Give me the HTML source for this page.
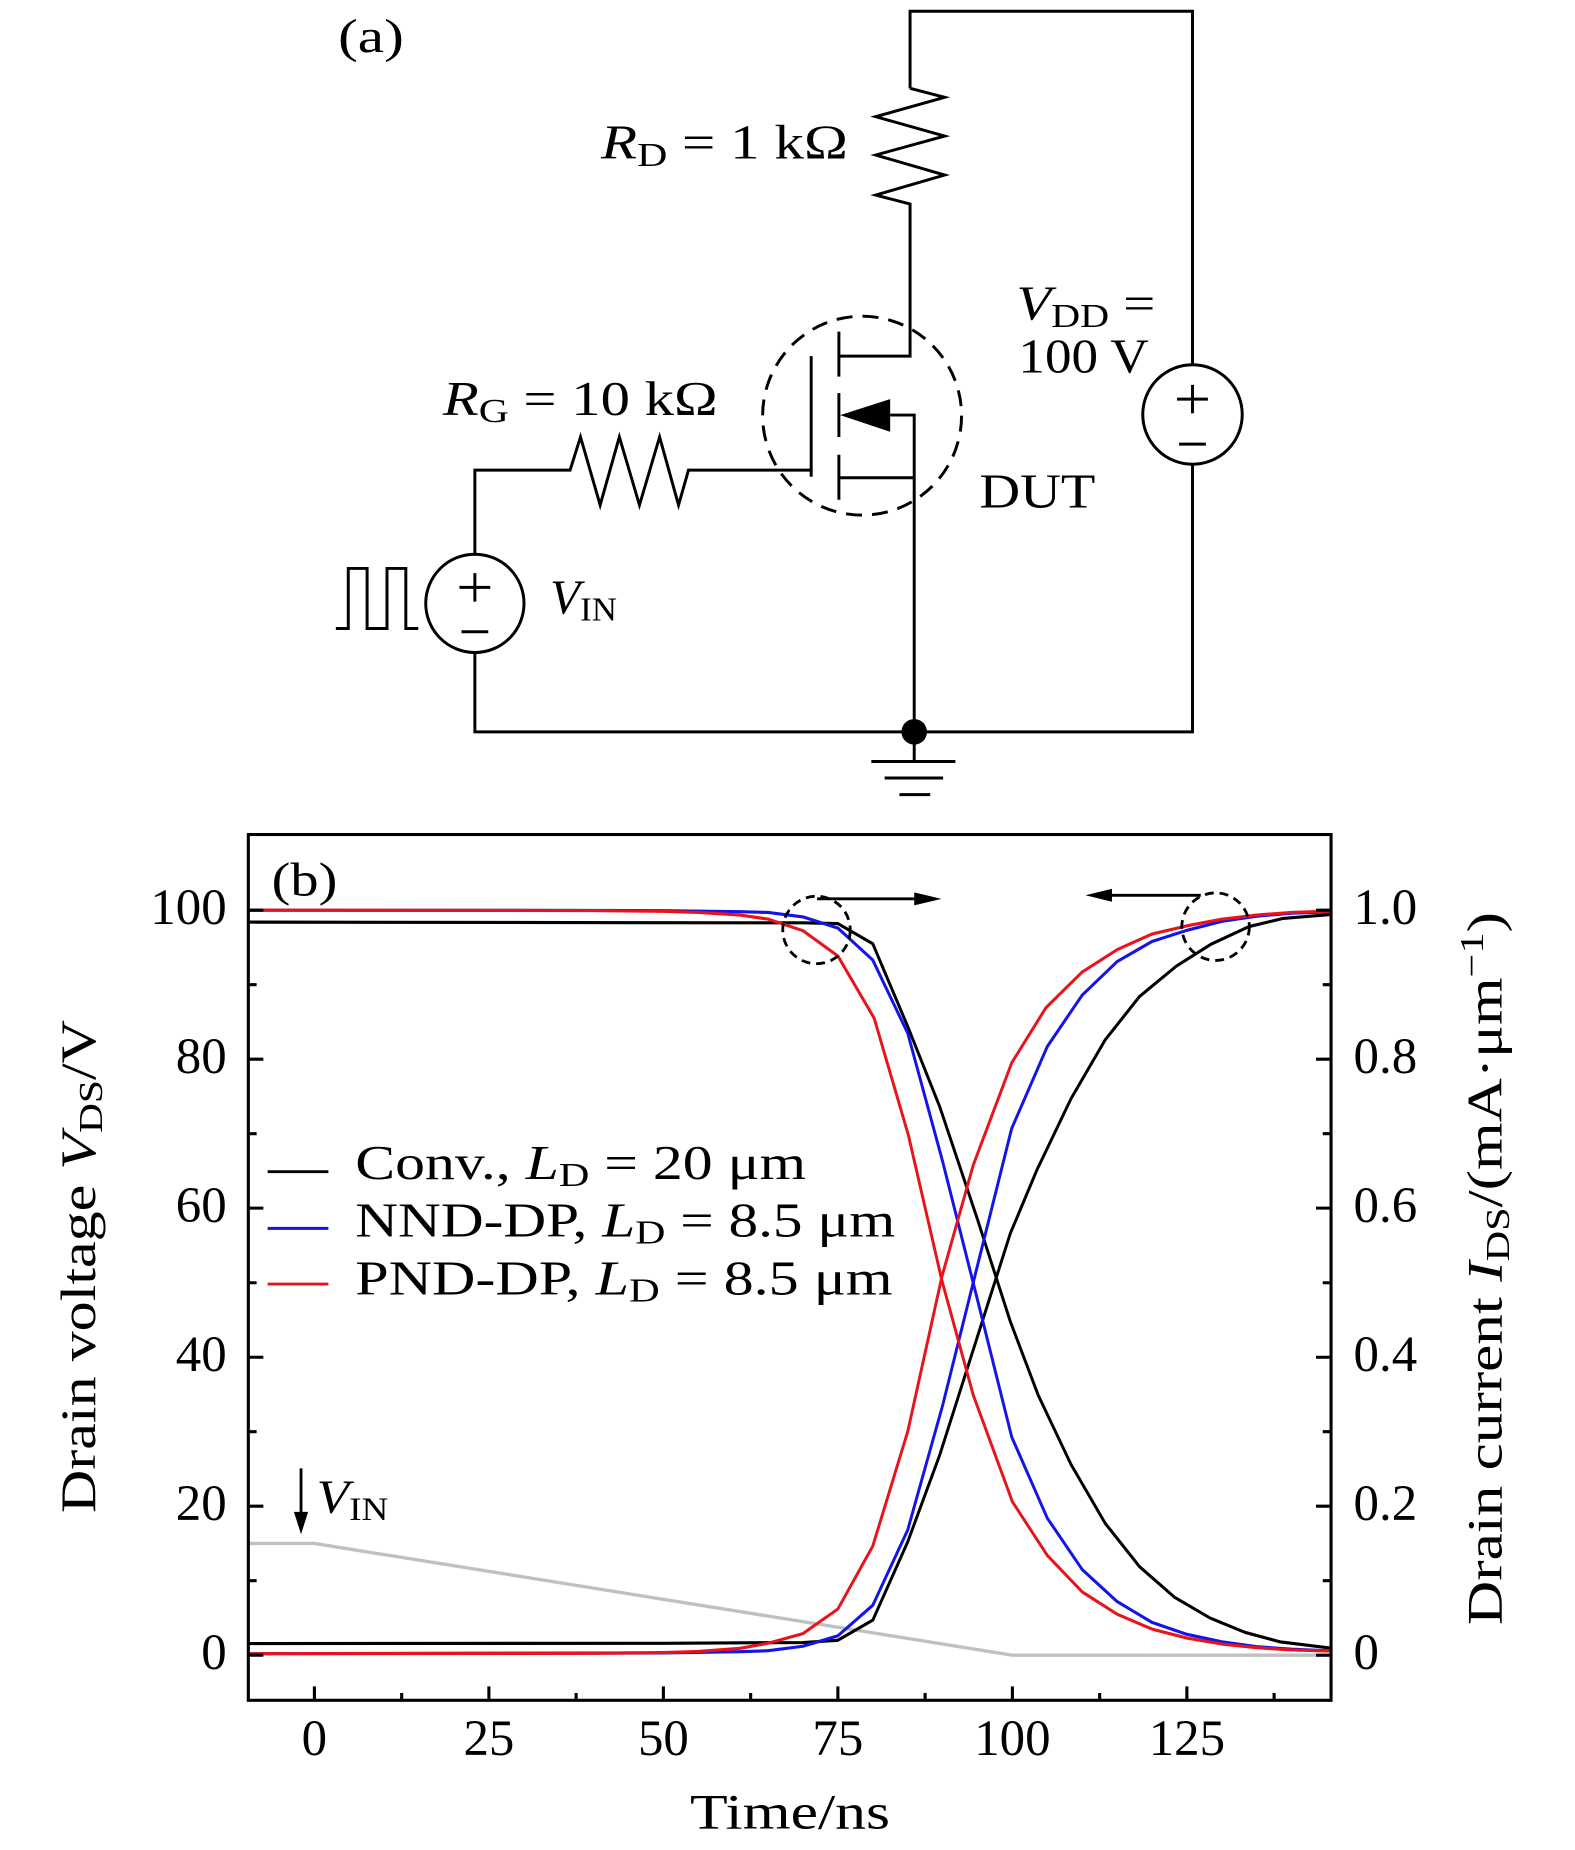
<!DOCTYPE html>
<html>
<head>
<meta charset="utf-8">
<style>
  html, body { margin: 0; padding: 0; background: #ffffff; }
  svg { display: block; }
  text { font-family: "Liberation Serif", "DejaVu Serif", serif; fill: #000; }
</style>
</head>
<body>
<svg xmlns="http://www.w3.org/2000/svg" width="1575" height="1850" viewBox="0 0 1330 1562.2">
  <rect x="0" y="0" width="1330" height="1562.2" fill="#ffffff"/>

  <!-- ================= (a) CIRCUIT ================= -->
  <g fill="none" stroke="#000" stroke-width="2.5" stroke-linejoin="miter" stroke-linecap="butt">
    <path d="M768.5,74.6 V9.5 H1007 V308"/>
    <path d="M768.5,74.6 L797.7,82.2 L739.5,98.5 L797.7,114.9 L739.5,130.9 L797.7,147.8 L739.5,164.7 L768.5,172.3 V300.7 H708.4"/>
    <circle cx="1007" cy="350" r="42"/>
    <path d="M994,337 H1020 M1007,325 V349 M995.7,375 H1018.3"/>
    <path d="M1007,392 V618 H401 V551"/>
    <circle cx="401" cy="509.5" r="41.5"/>
    <path d="M388,496 H414 M401,484 V508 M389.7,533.5 H412.3"/>
    <path d="M401,468 V397 H481.4 L490.2,369 L506.8,426.5 L523,369 L540,426.5 L557,369 L573,426.5 L581.4,397 H685"/>
    <path d="M283.6,530.7 H294.1 V480 H310 V530.7 H326.8 V480 H342.7 V530.7 H353.2"/>
    <path d="M685,300.7 V402.6"/>
    <path d="M708.4,280 V318 M708.4,332 V369 M708.4,384 V422"/>
    <path d="M708.4,403.4 H772 M751.7,350.5 H772 V618"/>
    <path d="M772,618 V643 M735.8,643 H806.8 M747,657 H796.4 M759.5,671 H785.5"/>
    <circle cx="728" cy="351" r="84" stroke-dasharray="13.5 8.5"/>
  </g>
  <polygon points="709.5,350.5 751.7,337 751.7,364.6" fill="#000"/>
  <circle cx="772" cy="618" r="10.8" fill="#000"/>

  <!-- circuit labels -->
  <text x="285.5" y="44" font-size="40" textLength="55.5" lengthAdjust="spacingAndGlyphs">(a)</text>
  <text x="507.5" y="134" font-size="41" textLength="208.5" lengthAdjust="spacingAndGlyphs"><tspan font-style="italic">R</tspan><tspan font-size="29" dy="6">D</tspan><tspan dy="-6"> = 1 kΩ</tspan></text>
  <text x="374" y="350.5" font-size="41" textLength="232" lengthAdjust="spacingAndGlyphs"><tspan font-style="italic">R</tspan><tspan font-size="29" dy="6">G</tspan><tspan dy="-6"> = 10 kΩ</tspan></text>
  <text x="858.3" y="270" font-size="41" textLength="117.3" lengthAdjust="spacingAndGlyphs"><tspan font-style="italic">V</tspan><tspan font-size="29" dy="6">DD</tspan><tspan dy="-6"> =</tspan></text>
  <text x="860" y="314.7" font-size="41" textLength="110" lengthAdjust="spacingAndGlyphs">100 V</text>
  <text x="827" y="428.5" font-size="41" textLength="98" lengthAdjust="spacingAndGlyphs">DUT</text>
  <text x="464.5" y="518" font-size="41" textLength="56.5" lengthAdjust="spacingAndGlyphs"><tspan font-style="italic">V</tspan><tspan font-size="29" dy="6">IN</tspan></text>

  <!-- ================= (b) PLOT ================= -->
  <defs>
    <clipPath id="pc" clipPathUnits="userSpaceOnUse">
      <rect x="209.7" y="704.7" width="914.3" height="731.1"/>
    </clipPath>
  </defs>

  <g clip-path="url(#pc)">
    <g transform="translate(265.5 1397.7) scale(5.894 -6.291)" fill="none" stroke-width="0.42" stroke-linejoin="round" stroke-linecap="round">
      <polyline stroke="#c0c0c0" stroke-width="0.45" points="-9.5,15 0,15 100,0 146,0"/>
      <polyline stroke="#000" points="-9.5,98.4 70,98.3 75,98.2 80,95.5 85,84.4 89.6,73.6 95,58.5 99.7,44.8 103.7,34.9 108.4,25.6 113.3,17.7 118.2,11.9 123.2,7.8 128.3,5.0 133.3,3.07 138.3,1.8 146,0.9"/>
      <polyline stroke="#000" points="-9.5,1.56 50,1.6 70,1.7 75,2.0 80,4.7 85,15.2 89.6,26.9 99.7,56.6 103.5,65.1 108.4,74.7 113.3,82.6 118.2,88.4 123.5,92.5 128.4,95.4 133.9,97.8 138.8,98.9 146,99.45"/>
      <polyline stroke="#1414e6" points="-9.5,100 40,99.97 50,99.93 61,99.8 65,99.7 70,99.1 75,97.6 80,93.3 85,83.5 90,66.3 95,47.7 99.9,29.3 105,18.4 110,11.5 115,7.2 120,4.4 125,2.8 130,1.8 135,1.14 140,0.8 146,0.56"/>
      <polyline stroke="#1414e6" points="-9.5,0.2 50,0.3 61,0.47 65,0.6 70,1.2 75,2.6 80,6.7 85,16.8 90,33.5 95,52.3 99.9,70.7 105,81.7 110,88.6 115,93.1 120,95.8 125,97.3 130,98.5 135,99.2 140,99.6 146,99.8"/>
      <polyline stroke="#e8141c" points="-9.5,100 40,99.95 50,99.85 55,99.7 61,99.35 65,98.8 70,97.25 75,93.85 80.2,85.5 85.1,69.8 89.9,50.3 94.4,34.9 100,20.6 105,13.4 110,8.5 115,5.5 120,3.5 125,2.3 130,1.5 135,1.0 140,0.7 146,0.55"/>
      <polyline stroke="#e8141c" points="-9.5,0.2 40,0.25 50,0.35 55,0.5 61,0.92 65,1.6 70,2.9 75,6.2 80,14.65 85,30.0 89.9,50.8 94.4,65.8 99.9,79.5 104.8,86.9 110,91.7 115,94.7 120,96.8 125,97.9 130,98.8 135,99.35 140,99.7 146,99.9"/>
    </g>
  </g>

  <!-- frame & ticks -->
  <g fill="none" stroke="#000" stroke-width="2.6" stroke-linecap="butt">
    <rect x="209.7" y="704.7" width="914.3" height="731.1"/>
    <path d="M209.7,1397.7 H222.4 M209.7,1271.9 H222.4 M209.7,1146.1 H222.4 M209.7,1020.2 H222.4 M209.7,894.4 H222.4 M209.7,768.6 H222.4
             M209.7,1334.8 H216.7 M209.7,1209 H216.7 M209.7,1083.2 H216.7 M209.7,957.3 H216.7 M209.7,831.5 H216.7
             M1124,1397.7 H1111.3 M1124,1271.9 H1111.3 M1124,1146.1 H1111.3 M1124,1020.2 H1111.3 M1124,894.4 H1111.3 M1124,768.6 H1111.3
             M1124,1334.8 H1117 M1124,1209 H1117 M1124,1083.2 H1117 M1124,957.3 H1117 M1124,831.5 H1117
             M265.5,1435.8 V1424 M412.85,1435.8 V1424 M560.2,1435.8 V1424 M707.55,1435.8 V1424 M854.9,1435.8 V1424 M1002.25,1435.8 V1424
             M339.2,1435.8 V1429.6 M486.5,1435.8 V1429.6 M633.9,1435.8 V1429.6 M781.2,1435.8 V1429.6 M928.6,1435.8 V1429.6 M1075.9,1435.8 V1429.6"/>
  </g>

  <!-- dashed circles and arrows -->
  <g fill="none" stroke="#000" stroke-width="2.4">
    <circle cx="689.5" cy="785.3" r="28.5" stroke-dasharray="7.5 5"/>
    <circle cx="1026.5" cy="782.5" r="28.5" stroke-dasharray="7.5 5"/>
    <path d="M690,759 H775 M1014,756 H937 M254.2,1240 V1280"/>
  </g>
  <polygon points="795,759 772,753.5 772,764.5" fill="#000"/>
  <polygon points="916.6,756 939,750.5 939,761.5" fill="#000"/>
  <polygon points="254.2,1295.6 248.2,1276.7 260.2,1276.7" fill="#000"/>

  <!-- legend -->
  <g stroke-width="2.5" fill="none">
    <path d="M226,989.4 H277.3" stroke="#000"/>
    <path d="M226,1037.3 H277.3" stroke="#1414e6"/>
    <path d="M226,1084.3 H277.3" stroke="#e8141c"/>
  </g>
  <text x="300" y="995.5" font-size="41" textLength="380.7" lengthAdjust="spacingAndGlyphs">Conv., <tspan font-style="italic">L</tspan><tspan font-size="29" dy="6">D</tspan><tspan dy="-6"> = 20 μm</tspan></text>
  <text x="300" y="1044" font-size="41" textLength="456" lengthAdjust="spacingAndGlyphs">NND-DP, <tspan font-style="italic">L</tspan><tspan font-size="29" dy="6">D</tspan><tspan dy="-6"> = 8.5 μm</tspan></text>
  <text x="300" y="1093" font-size="41" textLength="453.8" lengthAdjust="spacingAndGlyphs">PND-DP, <tspan font-style="italic">L</tspan><tspan font-size="29" dy="6">D</tspan><tspan dy="-6"> = 8.5 μm</tspan></text>

  <!-- plot labels -->
  <text x="229.4" y="756" font-size="40" textLength="55.5" lengthAdjust="spacingAndGlyphs">(b)</text>
  <text x="267.4" y="1277.5" font-size="40" textLength="60.6" lengthAdjust="spacingAndGlyphs"><tspan font-style="italic">V</tspan><tspan font-size="28" dy="6">IN</tspan></text>

  <g font-size="43" text-anchor="end">
    <text x="191.4" y="780.3">100</text>
    <text x="191.4" y="906.1">80</text>
    <text x="191.4" y="1031.9">60</text>
    <text x="191.4" y="1157.8">40</text>
    <text x="191.4" y="1283.6">20</text>
    <text x="191.4" y="1409.4">0</text>
  </g>
  <g font-size="43" text-anchor="start">
    <text x="1143" y="780.3">1.0</text>
    <text x="1143" y="906.1">0.8</text>
    <text x="1143" y="1031.9">0.6</text>
    <text x="1143" y="1157.8">0.4</text>
    <text x="1143" y="1283.6">0.2</text>
    <text x="1143" y="1409.4">0</text>
  </g>
  <g font-size="43" text-anchor="middle">
    <text x="265.5" y="1482">0</text>
    <text x="412.85" y="1482">25</text>
    <text x="560.2" y="1482">50</text>
    <text x="707.55" y="1482">75</text>
    <text x="854.9" y="1482">100</text>
    <text x="1002.25" y="1482">125</text>
  </g>

  <text x="582.7" y="1543.9" font-size="42" textLength="168.9" lengthAdjust="spacingAndGlyphs">Time/ns</text>
  <text transform="translate(80.2 1277.7) rotate(-90)" x="0" y="0" font-size="42" textLength="416.4" lengthAdjust="spacingAndGlyphs">Drain voltage <tspan font-style="italic">V</tspan><tspan font-size="29" dy="6">DS</tspan><tspan dy="-6">/V</tspan></text>
  <text transform="translate(1268.1 1372.2) rotate(-90)" x="0" y="0" font-size="42" textLength="602" lengthAdjust="spacingAndGlyphs">Drain current <tspan font-style="italic">I</tspan><tspan font-size="29" dy="6">DS</tspan><tspan dy="-6">/(mA·μm</tspan><tspan font-size="29" dy="-16">−1</tspan><tspan dy="16">)</tspan></text>
</svg>
</body>
</html>
